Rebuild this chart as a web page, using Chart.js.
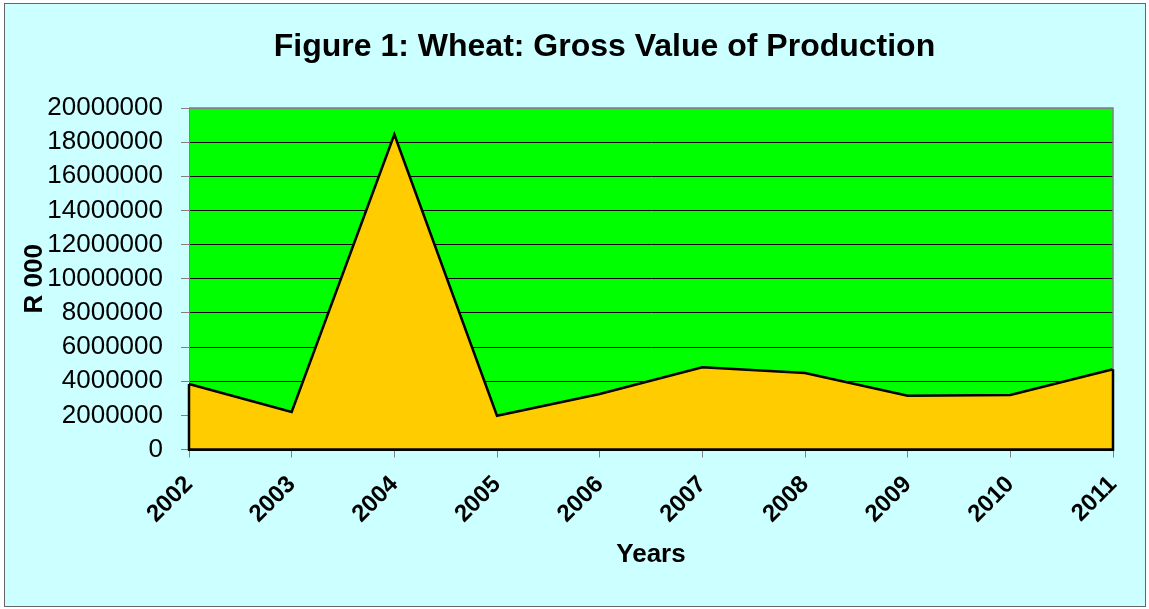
<!DOCTYPE html>
<html>
<head>
<meta charset="utf-8">
<title>Wheat: Gross Value of Production</title>
<script src="https://cdn.jsdelivr.net/npm/chart.js@4/dist/chart.umd.min.js"></script>
<style>
    html, body { margin: 0; padding: 0; background: #ffffff; }
    #wrap { width: 1149px; height: 609px; }
</style>
</head>
<body>
<div id="wrap"><canvas id="grafico" width="1149" height="609"></canvas></div>
<script>
// DADOS
const anos = ['2002', '2003', '2004', '2005', '2006', '2007', '2008', '2009', '2010', '2011'];
const valorProducao = [3840000, 2200000, 18450000, 1980000, 3250000, 4810000, 4480000, 3150000, 3190000, 4700000];
const tituloGrafico = 'Figure 1: Wheat: Gross Value of Production';
const tituloX = 'Years';
const tituloY = 'R 000';

const fonte = '"Liberation Sans", Arial, sans-serif';

// fundo, moldura e area do grafico
const pluginFundo = {
    id: 'fundo',
    beforeDraw(chart) {
        const { ctx, chartArea } = chart;
        ctx.save();
        ctx.fillStyle = '#ffffff';
        ctx.fillRect(0, 0, chart.width, chart.height);
        ctx.fillStyle = '#CCFFFF';
        ctx.fillRect(4, 3, 1142, 604);
        ctx.strokeStyle = '#666666';
        ctx.lineWidth = 1;
        ctx.strokeRect(4.5, 3.5, 1141, 603);
        ctx.fillStyle = '#00FF00';
        ctx.fillRect(chartArea.left, chartArea.top, chartArea.right - chartArea.left, chartArea.bottom - chartArea.top);
        ctx.restore();
    },
    afterDatasetsDraw(chart) {
        const { ctx, chartArea } = chart;
        const pontos = chart.getDatasetMeta(0).data;
        const base = chart.scales.y.getPixelForValue(0);
        const primeiro = pontos[0];
        const ultimo = pontos[pontos.length - 1];
        ctx.save();
        // borda cinza em cima e a direita
        ctx.strokeStyle = '#808080';
        ctx.lineWidth = 1.5;
        ctx.beginPath();
        ctx.moveTo(chartArea.left, chartArea.top);
        ctx.lineTo(chartArea.right, chartArea.top);
        ctx.lineTo(chartArea.right, ultimo.y);
        ctx.stroke();
        // contorno da area
        ctx.strokeStyle = '#000000';
        ctx.lineWidth = 2.5;
        ctx.beginPath();
        ctx.moveTo(primeiro.x, primeiro.y);
        ctx.lineTo(primeiro.x, base);
        ctx.lineTo(ultimo.x, base);
        ctx.lineTo(ultimo.x, ultimo.y);
        ctx.stroke();
        ctx.restore();
    }
};

const ctx = document.getElementById('grafico').getContext('2d');

new Chart(ctx, {
    type: 'line',
    data: {
        labels: anos,
        datasets: [{
            label: tituloY,
            data: valorProducao,
            fill: 'origin',
            backgroundColor: '#FFCC00',
            borderColor: '#000000',
            borderWidth: 2.5,
            pointRadius: 0,
            tension: 0
        }]
    },
    options: {
        responsive: false,
        animation: false,
        layout: {
            padding: { top: 10, left: 44, right: -16, bottom: 0 }
        },
        plugins: {
            legend: { display: false },
            tooltip: { enabled: false },
            title: {
                display: true,
                text: tituloGrafico,
                color: '#000000',
                font: { family: fonte, size: 32, weight: 'bold' },
                padding: { top: 18, bottom: 41.6 }
            }
        },
        scales: {
            x: {
                offset: false,
                afterFit(scale) {
                    scale.height = 159.5;
                    scale.paddingRight = 36;
                },
                grid: {
                    drawOnChartArea: false,
                    drawTicks: true,
                    tickLength: 8,
                    tickColor: '#808080'
                },
                border: { display: true, color: '#000000', width: 2 },
                ticks: {
                    autoSkip: false,
                    minRotation: 45,
                    maxRotation: 45,
                    padding: 13,
                    color: '#000000',
                    font: { family: fonte, size: 24, weight: 'bold' }
                },
                title: {
                    display: true,
                    text: tituloX,
                    color: '#000000',
                    font: { family: fonte, size: 26, weight: 'bold' },
                    padding: { top: 0, bottom: 38.5 }
                }
            },
            y: {
                min: 0,
                max: 20000000,
                afterFit(scale) { scale.width = 145; },
                grid: {
                    color: (c) => (c.tick && c.tick.value === 20000000 ? '#808080' : '#000000'),
                    lineWidth: 1,
                    drawTicks: true,
                    tickLength: 8,
                    tickColor: '#808080'
                },
                border: { display: true, color: '#808080', width: 1 },
                ticks: {
                    autoSkip: false,
                    stepSize: 2000000,
                    padding: 18,
                    color: '#000000',
                    font: { family: fonte, size: 26 },
                    callback: (v) => String(v)
                },
                title: {
                    display: true,
                    text: tituloY,
                    color: '#000000',
                    font: { family: fonte, size: 26, weight: 'bold' },
                    padding: { top: -24.6, bottom: 0 }
                }
            }
        }
    },
    plugins: [pluginFundo]
});
</script>
</body>
</html>
